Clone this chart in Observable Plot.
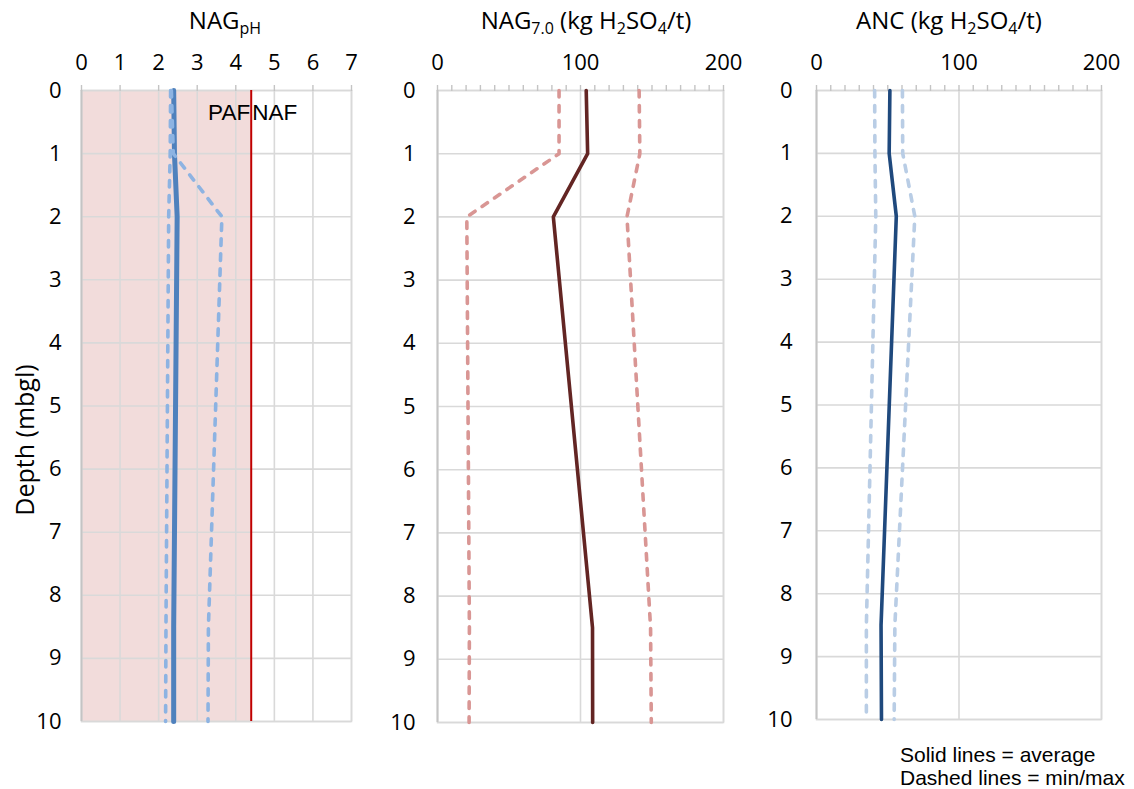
<!DOCTYPE html>
<html>
<head>
<meta charset="utf-8">
<script src="https://cdn.jsdelivr.net/npm/d3@7"></script>
<script src="https://cdn.jsdelivr.net/npm/@observablehq/plot@0.6"></script>
<style>
  html, body { margin: 0; padding: 0; background: #fff; }
  #wrap { position: relative; width: 1134px; height: 789px; overflow: hidden; font-family: "Open Sans", sans-serif; color: #000; }
  .panel { position: absolute; top: 0; }
  .title { position: absolute; top: 2px; font-size: 24px; white-space: nowrap; transform: translateX(-50%); line-height: 36px; }
  .title sub { font-size: 16px; vertical-align: -5px; line-height: 0; }
  #ylab { position: absolute; left: 24px; top: 440px; font-size: 25px; white-space: nowrap; transform: translate(-50%, -50%) rotate(-90deg); }
  #legend { position: absolute; left: 900px; top: 743px; font-family: "Liberation Sans", Arial, sans-serif; font-size: 21px; line-height: 23px; white-space: nowrap; }
</style>
</head>
<body>
<div id="wrap">
  <div class="title" style="left:225px">NAG<sub>pH</sub></div>
  <div class="title" style="left:586px">NAG<sub>7.0</sub> (kg H<sub>2</sub>SO<sub>4</sub>/t)</div>
  <div class="title" style="left:949px">ANC (kg H<sub>2</sub>SO<sub>4</sub>/t)</div>
  <div id="ylab">Depth (mbgl)</div>
  <div id="legend">Solid lines = average<br>Dashed lines = min/max</div>
</div>
<script>
// ---- Data ----
const depth = [0, 1, 2, 8.5, 10];
const depthTicks = [0, 1, 2, 3, 4, 5, 6, 7, 8, 9, 10];

// NAG pH
const nagPhAvg = [2.39, 2.41, 2.48, 2.39, 2.39];
const nagPhMin = [2.31, 2.30, 2.26, 2.19, 2.18];
const nagPhMax = [2.33, 2.38, 3.64, 3.29, 3.28];
const nagPhTicks = [0, 1, 2, 3, 4, 5, 6, 7];
const pafThreshold = 4.4;
const zoneLabels = ["PAF", "NAF"];

// NAG 7.0 (kg H2SO4/t)
const nag70Avg = [104, 105, 81, 108.4, 108.5];
const nag70Min = [85, 85, 20.5, 22.3, 22.1];
const nag70Max = [141, 141.5, 132.5, 149, 149.5];

// ANC (kg H2SO4/t)
const ancAvg = [51.5, 51, 56, 45.3, 45.6];
const ancMin = [40.8, 41, 41.6, 35, 35];
const ancMax = [60.3, 60.5, 69, 55, 54.5];

const kgTicks = [0, 100, 200];
const kgMinorTicks = d3.range(0, 201, 10);

const rows = (vals) => depth.map((d, i) => ({depth: d, value: vals[i]}));

function panel({left, width, height, mL, mR, mB, xDomain, major, minor, grid, avg, min, max, avgColor, avgWidth, dashColor, dashWidth, yPad, extra = [], under = []}) {
  const dash = {x: "value", y: "depth", stroke: dashColor, strokeWidth: dashWidth, strokeDasharray: "6.5,8.5", strokeLinecap: "round"};
  const chart = Plot.plot({
    width, height,
    marginLeft: mL, marginRight: mR, marginTop: 90, marginBottom: mB,
    x: {domain: xDomain, label: null},
    y: {domain: [0, 10], reverse: true, label: null},
    style: {fontFamily: "Open Sans, sans-serif", fontSize: "22px", color: "#000", background: "transparent", overflow: "visible"},
    marks: [
      ...under,
      Plot.gridX({ticks: grid, stroke: "#d9d9d9", strokeOpacity: 1, strokeWidth: 1.6}),
      Plot.gridY({ticks: depthTicks, stroke: "#d9d9d9", strokeOpacity: 1, strokeWidth: 1.6}),
      Plot.frame({stroke: "#d9d9d9", strokeWidth: 1.6}),
      Plot.ruleX([xDomain[0]], {stroke: "#c4c4c4", strokeWidth: 1.8}),
      Plot.axisX({anchor: "top", ticks: minor, tickSize: 6, stroke: "#c4c4c4", strokeWidth: 1.4, tickFormat: () => "", label: null}),
      Plot.axisX({anchor: "top", ticks: major, tickSize: 0, tickPadding: 21, tickFormat: d3.format("d"), fill: "#000", label: null}),
      Plot.axisY({anchor: "left", ticks: depthTicks, tickSize: 0, tickPadding: yPad, tickFormat: d3.format("d"), fill: "#000", label: null}),
      ...extra,
      Plot.line(rows(avg), {x: "value", y: "depth", stroke: avgColor, strokeWidth: avgWidth, strokeLinejoin: "round"}),
      Plot.line(rows(min), dash),
      Plot.line(rows(max), dash)
    ]
  });
  chart.classList.add("panel");
  chart.style.left = left + "px";
  document.getElementById("wrap").appendChild(chart);
}

// Panel 1: NAG pH
panel({
  left: 0, width: 372, height: 745, mL: 81, mR: 21, mB: 24,
  xDomain: [0, 7], major: nagPhTicks, minor: nagPhTicks, grid: nagPhTicks,
  avg: nagPhAvg, min: nagPhMin, max: nagPhMax,
  avgColor: "#4f81bd", avgWidth: 5, dashColor: "#8db3e2", dashWidth: 3.6, yPad: 20,
  under: [
    Plot.rect([{x1: 0, x2: pafThreshold, y1: 0, y2: 10}], {x1: "x1", x2: "x2", y1: "y1", y2: "y2", fill: "#f2dcdb"})
  ],
  extra: [
    Plot.ruleX([pafThreshold], {stroke: "#c00000", strokeWidth: 2}),
    Plot.text([zoneLabels[0]], {x: pafThreshold, y: 0.36, text: d => d, textAnchor: "end", dx: -1, fontFamily: "Liberation Sans, Arial, sans-serif", fontSize: 22.5, fill: "#000"}),
    Plot.text([zoneLabels[1]], {x: pafThreshold, y: 0.36, text: d => d, textAnchor: "start", dx: 1, fontFamily: "Liberation Sans, Arial, sans-serif", fontSize: 22.5, fill: "#000"})
  ]
});

// Panel 2: NAG 7.0
panel({
  left: 380, width: 362, height: 745, mL: 57, mR: 19, mB: 23,
  xDomain: [0, 200], major: kgTicks, minor: kgMinorTicks, grid: kgTicks,
  avg: nag70Avg, min: nag70Min, max: nag70Max,
  avgColor: "#632523", avgWidth: 3.6, dashColor: "#d99694", dashWidth: 3.6, yPad: 22
});

// Panel 3: ANC
panel({
  left: 760, width: 374, height: 745, mL: 56, mR: 33, mB: 26,
  xDomain: [0, 200], major: kgTicks, minor: kgMinorTicks, grid: kgTicks,
  avg: ancAvg, min: ancMin, max: ancMax,
  avgColor: "#1f497d", avgWidth: 3.6, dashColor: "#b9cde5", dashWidth: 3.6, yPad: 24
});
</script>
</body>
</html>
